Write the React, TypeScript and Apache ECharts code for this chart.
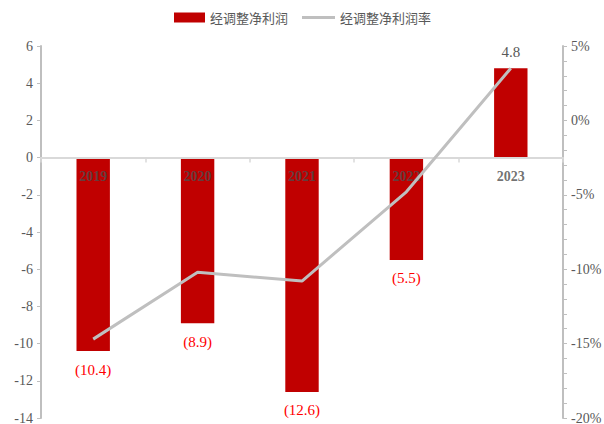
import React, { useEffect, useRef } from "react";
import * as echarts from "echarts";

const categories = ["2019", "2020", "2021", "2022", "2023"];
const profit = [-10.4, -8.9, -12.6, -5.5, 4.8];
const margin = [-14.7, -10.2, -10.8, -4.8, 3.5];
const leftTicks = { min: -14, max: 6, interval: 2 };
const rightTicks = { min: -20, max: 5, interval: 5 };

const serif = "'Liberation Serif', 'Times New Roman', serif";
const cjk = "'Noto Sans CJK SC', sans-serif";

export default function App() {
  const ref = useRef<HTMLDivElement>(null);
  useEffect(() => {
    if (!ref.current) return;
    const chart = echarts.init(ref.current, undefined, { renderer: "svg" });
    const legendText = { fontFamily: cjk, fontSize: 13, color: "#595959" };
    chart.setOption({
      animation: false,
      backgroundColor: "#ffffff",
      legend: [
        {
          top: 11,
          left: 174,
          padding: 0,
          itemWidth: 31,
          itemHeight: 10,
          textStyle: legendText,
          data: [{ name: "经调整净利润", icon: "rect" }],
        },
        {
          top: 11,
          left: 302,
          padding: 0,
          itemWidth: 33,
          itemHeight: 3,
          textStyle: legendText,
          data: [{ name: "经调整净利润率", icon: "rect" }],
        },
      ],
      grid: { left: 41, right: 41, top: 46, bottom: 6, containLabel: false, outerBoundsMode: "none" },
      xAxis: {
        type: "category",
        data: categories,
        axisLine: { onZero: true, onZeroAxisIndex: 0, lineStyle: { color: "#d9d9d9", width: 2 } },
        axisTick: { show: true, length: 5, lineStyle: { color: "#d9d9d9", width: 1.5 } },
        axisLabel: { show: false },
        z: 10,
      },
      yAxis: [
        {
          type: "value",
          min: leftTicks.min,
          max: leftTicks.max,
          interval: leftTicks.interval,
          splitLine: { show: false },
          axisLine: { show: true, lineStyle: { color: "#bfbfbf", width: 2 } },
          axisTick: { show: true, length: 4, lineStyle: { color: "#bfbfbf" } },
          axisLabel: { fontFamily: serif, fontSize: 14, color: "#595959", margin: 8 },
        },
        {
          type: "value",
          min: rightTicks.min,
          max: rightTicks.max,
          interval: rightTicks.interval,
          splitLine: { show: false },
          axisLine: { show: true, lineStyle: { color: "#bfbfbf", width: 2 } },
          axisTick: { show: true, length: 4, lineStyle: { color: "#bfbfbf" } },
          minorTick: { show: true, splitNumber: 5, length: 4, lineStyle: { color: "#bfbfbf" } },
          axisLabel: {
            fontFamily: serif,
            fontSize: 14,
            color: "#595959",
            margin: 8,
            formatter: "{value}%",
          },
        },
      ],
      series: [
        {
          name: "经调整净利润",
          type: "bar",
          yAxisIndex: 0,
          barWidth: "32%",
          itemStyle: { color: "#c00000" },
          data: profit.map((v) => ({
            value: v,
            label: {
              show: true,
              position: v < 0 ? "bottom" : "top",
              distance: v < 0 ? 11 : 9,
              fontFamily: serif,
              fontSize: 15,
              color: v < 0 ? "#ff0000" : "#595959",
              formatter: v < 0 ? `(${Math.abs(v).toFixed(1)})` : `${v.toFixed(1)}`,
            },
          })),
        },
        {
          name: "经调整净利润率",
          type: "line",
          yAxisIndex: 1,
          symbol: "none",
          lineStyle: { color: "#bfbfbf", width: 3 },
          itemStyle: { color: "#bfbfbf" },
          data: margin,
          z: 12,
        },
        {
          name: "categoryLabels",
          type: "scatter",
          yAxisIndex: 0,
          symbolSize: 0,
          silent: true,
          z: 10,
          data: categories.map((c) => [c, 0]),
          label: {
            show: true,
            position: "bottom",
            distance: 12,
            fontFamily: serif,
            fontSize: 14,
            fontWeight: "bold",
            color: "#4d4d4d",
            formatter: (p: any) => categories[p.dataIndex],
          },
        },
      ],
    });
    return () => chart.dispose();
  }, []);
  return <div ref={ref} style={{ width: 604, height: 424, position: "absolute", left: 0, top: 0 }} />;
}
